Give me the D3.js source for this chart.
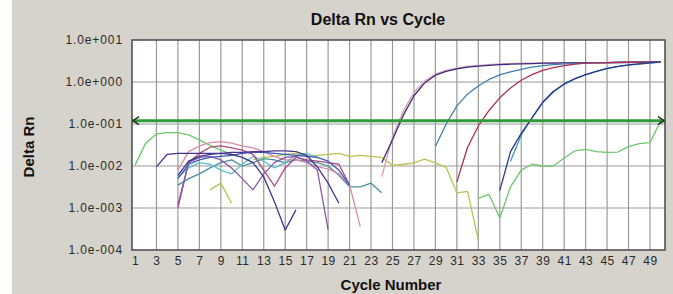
<!DOCTYPE html>
<html>
<head>
<meta charset="utf-8">
<script src="https://cdn.jsdelivr.net/npm/d3@7"></script>
<style>
  html, body { margin: 0; padding: 0; background: #d6d3cc; }
  svg { display: block; font-family: "Liberation Sans", Arial, sans-serif; }
</style>
</head>
<body>
<svg id="chart"></svg>
<script>
// cycle tick labels and decade ticks
const cycleTicks = d3.range(1, 50, 2)
const decadeTicks = [1e-4, 1e-3, 1e-2, 1e-1, 1e0, 1e1]
const threshold = 0.12

// amplification curves (value per cycle, starting at the given cycle)
const pinkAmp = [0.0056, 0.049, 0.2, 0.57, 1.05, 1.55, 1.9, 2.15, 2.35, 2.5, 2.6, 2.7, 2.75, 2.8, 2.8, 2.85, 2.85, 2.85, 2.9, 2.9, 2.9, 2.9, 2.95, 2.95, 2.95, 3.0, 3.0]
const purpleAmp = [0.012, 0.042, 0.16, 0.47, 0.95, 1.45, 1.8, 2.05, 2.25, 2.4, 2.5, 2.6, 2.65, 2.7, 2.75, 2.8, 2.8, 2.85, 2.85, 2.9, 2.9, 2.9, 2.95, 2.95, 2.95, 3.0, 3.0]
const steelAmp = [0.029, 0.1, 0.27, 0.52, 0.8, 1.15, 1.47, 1.75, 2.0, 2.25, 2.45, 2.6, 2.7, 2.75, 2.8, 2.85, 2.85, 2.9, 2.9, 2.95, 3.0, 3.0]
const crimsonAmp = [0.0042, 0.028, 0.09, 0.21, 0.42, 0.72, 1.1, 1.5, 1.9, 2.2, 2.45, 2.65, 2.8, 2.85, 2.9, 2.9, 2.95, 2.95, 3.0, 3.0]
const navyAmp = [0.0026, 0.022, 0.06, 0.14, 0.33, 0.6, 0.9, 1.2, 1.5, 1.8, 2.1, 2.35, 2.55, 2.7, 2.85, 3.0]
const tealAmp = [0.013, 0.055, 0.14, 0.32, 0.58, 0.88, 1.18, 1.48, 1.78, 2.08, 2.33, 2.53, 2.68, 2.83, 2.98]

// baseline noise
const greenEarly = [0.0105, 0.035, 0.058, 0.062, 0.062, 0.055, 0.042, 0.031, 0.024, 0.019]
const greenLate = [0.0017, 0.0021, 0.00058, 0.0032, 0.008, 0.011, 0.01, 0.01, 0.0155, 0.023, 0.025, 0.022, 0.021, 0.0215, 0.029, 0.034, 0.036, 0.12]
const oliveEarly = [0.0027, 0.0039, 0.0013]
const olive = [0.014, 0.016, 0.017, 0.019, 0.02, 0.017, 0.018, 0.019, 0.02, 0.017, 0.018, 0.017, 0.016, 0.0105, 0.011, 0.0118, 0.0146, 0.0119, 0.0093, 0.0023, 0.0025, 0.00017]
const indigoBase = [0.0095, 0.019, 0.02, 0.02, 0.02, 0.02, 0.02, 0.021, 0.021, 0.022, 0.022, 0.023, 0.023, 0.022, 0.018, 0.0095, 0.0039, 0.0013]
const roseBase = [0.008, 0.022, 0.03, 0.036, 0.038, 0.035, 0.03, 0.027, 0.022, 0.017, 0.014, 0.014, 0.012, 0.0095, 0.0085, 0.0065, 0.0035, 0.00036]
const tealBase = [0.0035, 0.005, 0.0065, 0.009, 0.012, 0.014, 0.01, 0.012, 0.015, 0.014, 0.012, 0.014, 0.013, 0.012, 0.01, 0.006, 0.0032, 0.0032, 0.0039, 0.0023]
const cyanBase = [0.0055, 0.009, 0.012, 0.011, 0.008, 0.0065, 0.011, 0.017, 0.013, 0.009, 0.012, 0.018, 0.02, 0.016]
const navyBase = [0.006, 0.013, 0.017, 0.019, 0.02, 0.019, 0.016, 0.012, 0.0055, 0.0014, 0.0003, 0.0009]
const violetBase = [0.001, 0.012, 0.016, 0.017, 0.014, 0.009, 0.005, 0.0027, 0.0065, 0.012, 0.016, 0.017, 0.013, 0.008, 0.0003]
const magentaBase = [0.0012, 0.012, 0.02, 0.028, 0.03, 0.027, 0.024, 0.019, 0.008, 0.0033, 0.009, 0.016, 0.014, 0.013, 0.012, 0.011, 0.0035]
const blueBase = [0.005, 0.011, 0.014, 0.016, 0.017, 0.018, 0.02, 0.021, 0.021, 0.02, 0.019, 0.018, 0.017, 0.016, 0.013, 0.008, 0.0035]

const series = [
  {color: '#6cc86c', start: 1, values: greenEarly},
  {color: '#6cc86c', start: 33, values: greenLate},
  {color: '#bcc24e', start: 8, values: oliveEarly},
  {color: '#bcc24e', start: 12, values: olive},
  {color: '#4a8fa2', start: 5, values: tealBase},
  {color: '#5cc0c8', start: 5, values: cyanBase},
  {color: '#d88aa4', start: 5, values: roseBase},
  {color: '#b04a80', start: 5, values: magentaBase},
  {color: '#8a5aa8', start: 5, values: violetBase},
  {color: '#3a5ab8', start: 5, values: blueBase},
  {color: '#35358a', start: 5, values: navyBase},
  {color: '#4b3590', start: 3, values: indigoBase},
  {color: '#d9a0a8', start: 24, values: pinkAmp},
  {color: '#3a2a80', start: 24, values: purpleAmp},
  {color: '#3f7fb0', start: 29, values: steelAmp},
  {color: '#b03050', start: 31, values: crimsonAmp},
  {color: '#3a9ab0', start: 36, values: tealAmp},
  {color: '#2a3a8c', start: 35, values: navyAmp}
]

const width = 673, height = 294
const plot = {left: 132, right: 665, top: 40, bottom: 250}

const svg = d3.select('#chart')
  .attr('width', width)
  .attr('height', height)

svg.append('rect')
  .attr('width', width).attr('height', height)
  .attr('fill', '#d6d3cc')
svg.append('rect')
  .attr('width', 12).attr('height', height)
  .attr('fill', '#ffffff')

const x = d3.scaleLinear().domain([0.72, 50.4]).range([plot.left, plot.right])
const y = d3.scaleLog().domain([1e-4, 10]).range([plot.bottom, plot.top])

const fmt = v => {
  const e = Math.round(Math.log10(v))
  return '1.0e' + (e < 0 ? '-' : '+') + String(Math.abs(e)).padStart(3, '0')
}

svg.append('rect')
  .attr('x', plot.left).attr('y', plot.top)
  .attr('width', plot.right - plot.left).attr('height', plot.bottom - plot.top)
  .attr('fill', '#ffffff')

// grid
svg.append('g')
  .selectAll('line')
  .data(cycleTicks.filter(c => c > 1))
  .enter().append('line')
  .attr('x1', d => x(d)).attr('x2', d => x(d))
  .attr('y1', plot.top).attr('y2', plot.bottom)
  .attr('stroke', '#9a9a9a').attr('stroke-width', 1.2)

svg.append('g')
  .selectAll('line')
  .data(decadeTicks.slice(1, -1))
  .enter().append('line')
  .attr('x1', plot.left).attr('x2', plot.right)
  .attr('y1', d => y(d)).attr('y2', d => y(d))
  .attr('stroke', '#9a9a9a').attr('stroke-width', 1.2)

// axes labels
const yAxis = d3.axisLeft(y).tickValues(decadeTicks).tickFormat(fmt).tickSize(0).tickPadding(9)
const gy = svg.append('g').attr('transform', `translate(${plot.left},0)`).call(yAxis)
gy.select('.domain').remove()
gy.selectAll('text')
  .attr('font-size', 12).attr('letter-spacing', 0.9).attr('fill', '#2a2a2a')
  .attr('font-family', '"Liberation Sans", Arial, sans-serif')

const xAxis = d3.axisBottom(x).tickValues(cycleTicks).tickFormat(d3.format('d')).tickSize(0).tickPadding(6)
const gx = svg.append('g').attr('transform', `translate(0,${plot.bottom})`).call(xAxis)
gx.select('.domain').remove()
gx.selectAll('text')
  .attr('font-size', 12).attr('letter-spacing', 0.5).attr('fill', '#2a2a2a')
  .attr('font-family', '"Liberation Sans", Arial, sans-serif')

// series
svg.append('clipPath').attr('id', 'clip')
  .append('rect')
  .attr('x', plot.left).attr('y', plot.top)
  .attr('width', plot.right - plot.left).attr('height', plot.bottom - plot.top)

const line = d3.line()
  .x(d => x(d.cycle))
  .y(d => y(d.value))

svg.append('g')
  .attr('clip-path', 'url(#clip)')
  .selectAll('path')
  .data(series)
  .enter().append('path')
  .attr('d', s => line(s.values.map((v, i) => ({cycle: s.start + i, value: v}))))
  .attr('fill', 'none')
  .attr('stroke', s => s.color)
  .attr('stroke-width', 1.3)
  .attr('stroke-linejoin', 'round')

// threshold with arrowheads
const ty = y(threshold)
svg.append('line')
  .attr('x1', plot.left).attr('x2', plot.right)
  .attr('y1', ty).attr('y2', ty)
  .attr('stroke', '#2f9a3a').attr('stroke-width', 3)
svg.append('path')
  .attr('d', `M${plot.left + 7},${ty - 4} L${plot.left + 1},${ty} L${plot.left + 7},${ty + 4}`)
  .attr('fill', 'none').attr('stroke', '#1c3a1c').attr('stroke-width', 1.6)
svg.append('path')
  .attr('d', `M${plot.right - 7},${ty - 4} L${plot.right - 1},${ty} L${plot.right - 7},${ty + 4}`)
  .attr('fill', 'none').attr('stroke', '#1c3a1c').attr('stroke-width', 1.6)

// border
svg.append('rect')
  .attr('x', plot.left).attr('y', plot.top)
  .attr('width', plot.right - plot.left).attr('height', plot.bottom - plot.top)
  .attr('fill', 'none').attr('stroke', '#4a4a4a').attr('stroke-width', 1.5)

// titles
svg.append('text')
  .attr('x', 378).attr('y', 25)
  .attr('text-anchor', 'middle')
  .attr('font-size', 16).attr('font-weight', 'bold').attr('fill', '#111')
  .text('Delta Rn vs Cycle')

svg.append('text')
  .attr('transform', 'translate(34,147) rotate(-90)')
  .attr('text-anchor', 'middle')
  .attr('font-size', 15).attr('font-weight', 'bold').attr('fill', '#111')
  .text('Delta Rn')

svg.append('text')
  .attr('x', 391).attr('y', 290)
  .attr('text-anchor', 'middle')
  .attr('font-size', 15).attr('font-weight', 'bold').attr('fill', '#111')
  .text('Cycle Number')
</script>
</body>
</html>
